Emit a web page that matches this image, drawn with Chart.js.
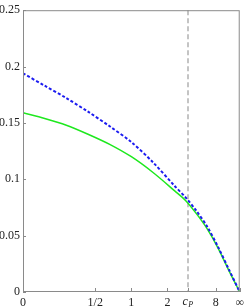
<!DOCTYPE html>
<html>
<head>
<meta charset="utf-8">
<script src="https://cdn.jsdelivr.net/npm/chart.js@4"></script>
<style>
  html, body { margin: 0; padding: 0; background: #fff; }
  #chart { display: block; }
</style>
</head>
<body>
<canvas id="chart" width="248" height="308"></canvas>
<script>
// x axis is c mapped to t = c / (1 + c), so 0 -> 0 and infinity -> 1
const tGrid = [0, 0.1, 0.2, 0.3, 0.4, 0.5, 0.6, 0.7, 0.75, 0.8, 0.85, 0.9, 0.95, 1];
const dashedSeries = [0.194, 0.183, 0.172, 0.160, 0.147, 0.133, 0.115, 0.094, 0.084, 0.072, 0.058, 0.040, 0.020, 0];
const solidSeries  = [0.159, 0.154, 0.148, 0.140, 0.131, 0.120, 0.106, 0.0897, 0.0812, 0.0695, 0.056, 0.039, 0.019, 0];

const cP = 3.15;
const xTickValues = [0, 0.5, 1, 2, cP, 8, Infinity];
const xTickLabels = ['0', '1/2', '1', '2', '', '8', '\u221E'];
const yTickValues = [0, 0.05, 0.1, 0.15, 0.2, 0.25];
const yTickLabels = ['0', '0.05', '0.1', '0.15', '0.2', '0.25'];

const toT = c => (c === Infinity ? 1 : c / (1 + c));
const xTickT = xTickValues.map(toT);

const SERIF = 'Liberation Serif, Times New Roman, serif';
const FONT = { family: SERIF, size: 12 };
const FRAME = '#8a8a8a';

const framePlugin = {
  id: 'frame',
  beforeDatasetsDraw(chart) {
    const { ctx, chartArea, scales } = chart;
    const x = Math.round(scales.x.getPixelForValue(toT(cP)));
    ctx.save();
    ctx.strokeStyle = '#c4c4c4';
    ctx.lineWidth = 2;
    ctx.setLineDash([5, 3]);
    ctx.beginPath();
    ctx.moveTo(x, chartArea.top);
    ctx.lineTo(x, chartArea.bottom);
    ctx.stroke();
    ctx.restore();
  },
  afterDraw(chart) {
    const { ctx, chartArea, scales } = chart;
    ctx.save();
    ctx.strokeStyle = FRAME;
    ctx.lineWidth = 1;
    ctx.strokeRect(chartArea.left + 0.5, chartArea.top + 0.5,
      chartArea.right - chartArea.left - 1, chartArea.bottom - chartArea.top - 1);

    // inward tick marks
    ctx.beginPath();
    xTickT.forEach(v => {
      const px = Math.round(scales.x.getPixelForValue(v)) + 0.5;
      ctx.moveTo(px, chartArea.bottom);
      ctx.lineTo(px, chartArea.bottom - 4);
    });
    yTickValues.forEach(v => {
      const py = Math.round(scales.y.getPixelForValue(v)) + 0.5;
      ctx.moveTo(chartArea.left, py);
      ctx.lineTo(chartArea.left + 3, py);
    });
    ctx.stroke();

    // c_P label
    const cx = scales.x.getPixelForValue(toT(cP));
    const ty = chartArea.bottom + 4;
    ctx.fillStyle = '#222';
    ctx.textBaseline = 'top';
    ctx.font = 'italic 12px ' + SERIF;
    const cw = ctx.measureText('c').width;
    ctx.font = 'italic 8px ' + SERIF;
    const pw = ctx.measureText('P').width;
    const startX = cx - (cw + pw) / 2;
    ctx.font = 'italic 12px ' + SERIF;
    ctx.textAlign = 'left';
    ctx.fillText('c', startX, ty);
    ctx.font = 'italic 8px ' + SERIF;
    ctx.fillText('P', startX + cw + 0.5, ty + 5);
    ctx.restore();
  }
};

new Chart(document.getElementById('chart'), {
  type: 'line',
  data: {
    datasets: [
      {
        label: 'dashed',
        data: tGrid.map((t, i) => ({ x: t, y: dashedSeries[i] })),
        borderColor: '#1c1cf0',
        borderWidth: 2,
        borderDash: [3, 2],
        pointRadius: 0,
        tension: 0.3
      },
      {
        label: 'solid',
        data: tGrid.map((t, i) => ({ x: t, y: solidSeries[i] })),
        borderColor: '#1ee81e',
        borderWidth: 1.5,
        pointRadius: 0,
        tension: 0.3
      }
    ]
  },
  options: {
    responsive: false,
    animation: false,
    layout: { padding: { top: 6, right: 5, left: 0, bottom: 0 } },
    plugins: {
      legend: { display: false },
      tooltip: { enabled: false }
    },
    scales: {
      x: {
        type: 'linear',
        min: 0,
        max: 1,
        grid: { display: false, drawTicks: false },
        border: { display: false },
        afterBuildTicks: scale => { scale.ticks = xTickT.map(v => ({ value: v })); },
        afterFit: scale => { scale.height = 16; },
        ticks: {
          autoSkip: false,
          maxRotation: 0,
          padding: 4,
          color: '#222',
          font: FONT,
          callback: (value, index) => xTickLabels[index]
        }
      },
      y: {
        min: 0,
        max: 0.25,
        grid: { display: false, drawTicks: false },
        border: { display: false },
        afterBuildTicks: scale => { scale.ticks = yTickValues.map(v => ({ value: v })); },
        afterFit: scale => { scale.width = 23; },
        ticks: {
          padding: 3,
          color: '#222',
          font: FONT,
          callback: (value, index) => yTickLabels[index]
        }
      }
    }
  },
  plugins: [framePlugin]
});
</script>
</body>
</html>
